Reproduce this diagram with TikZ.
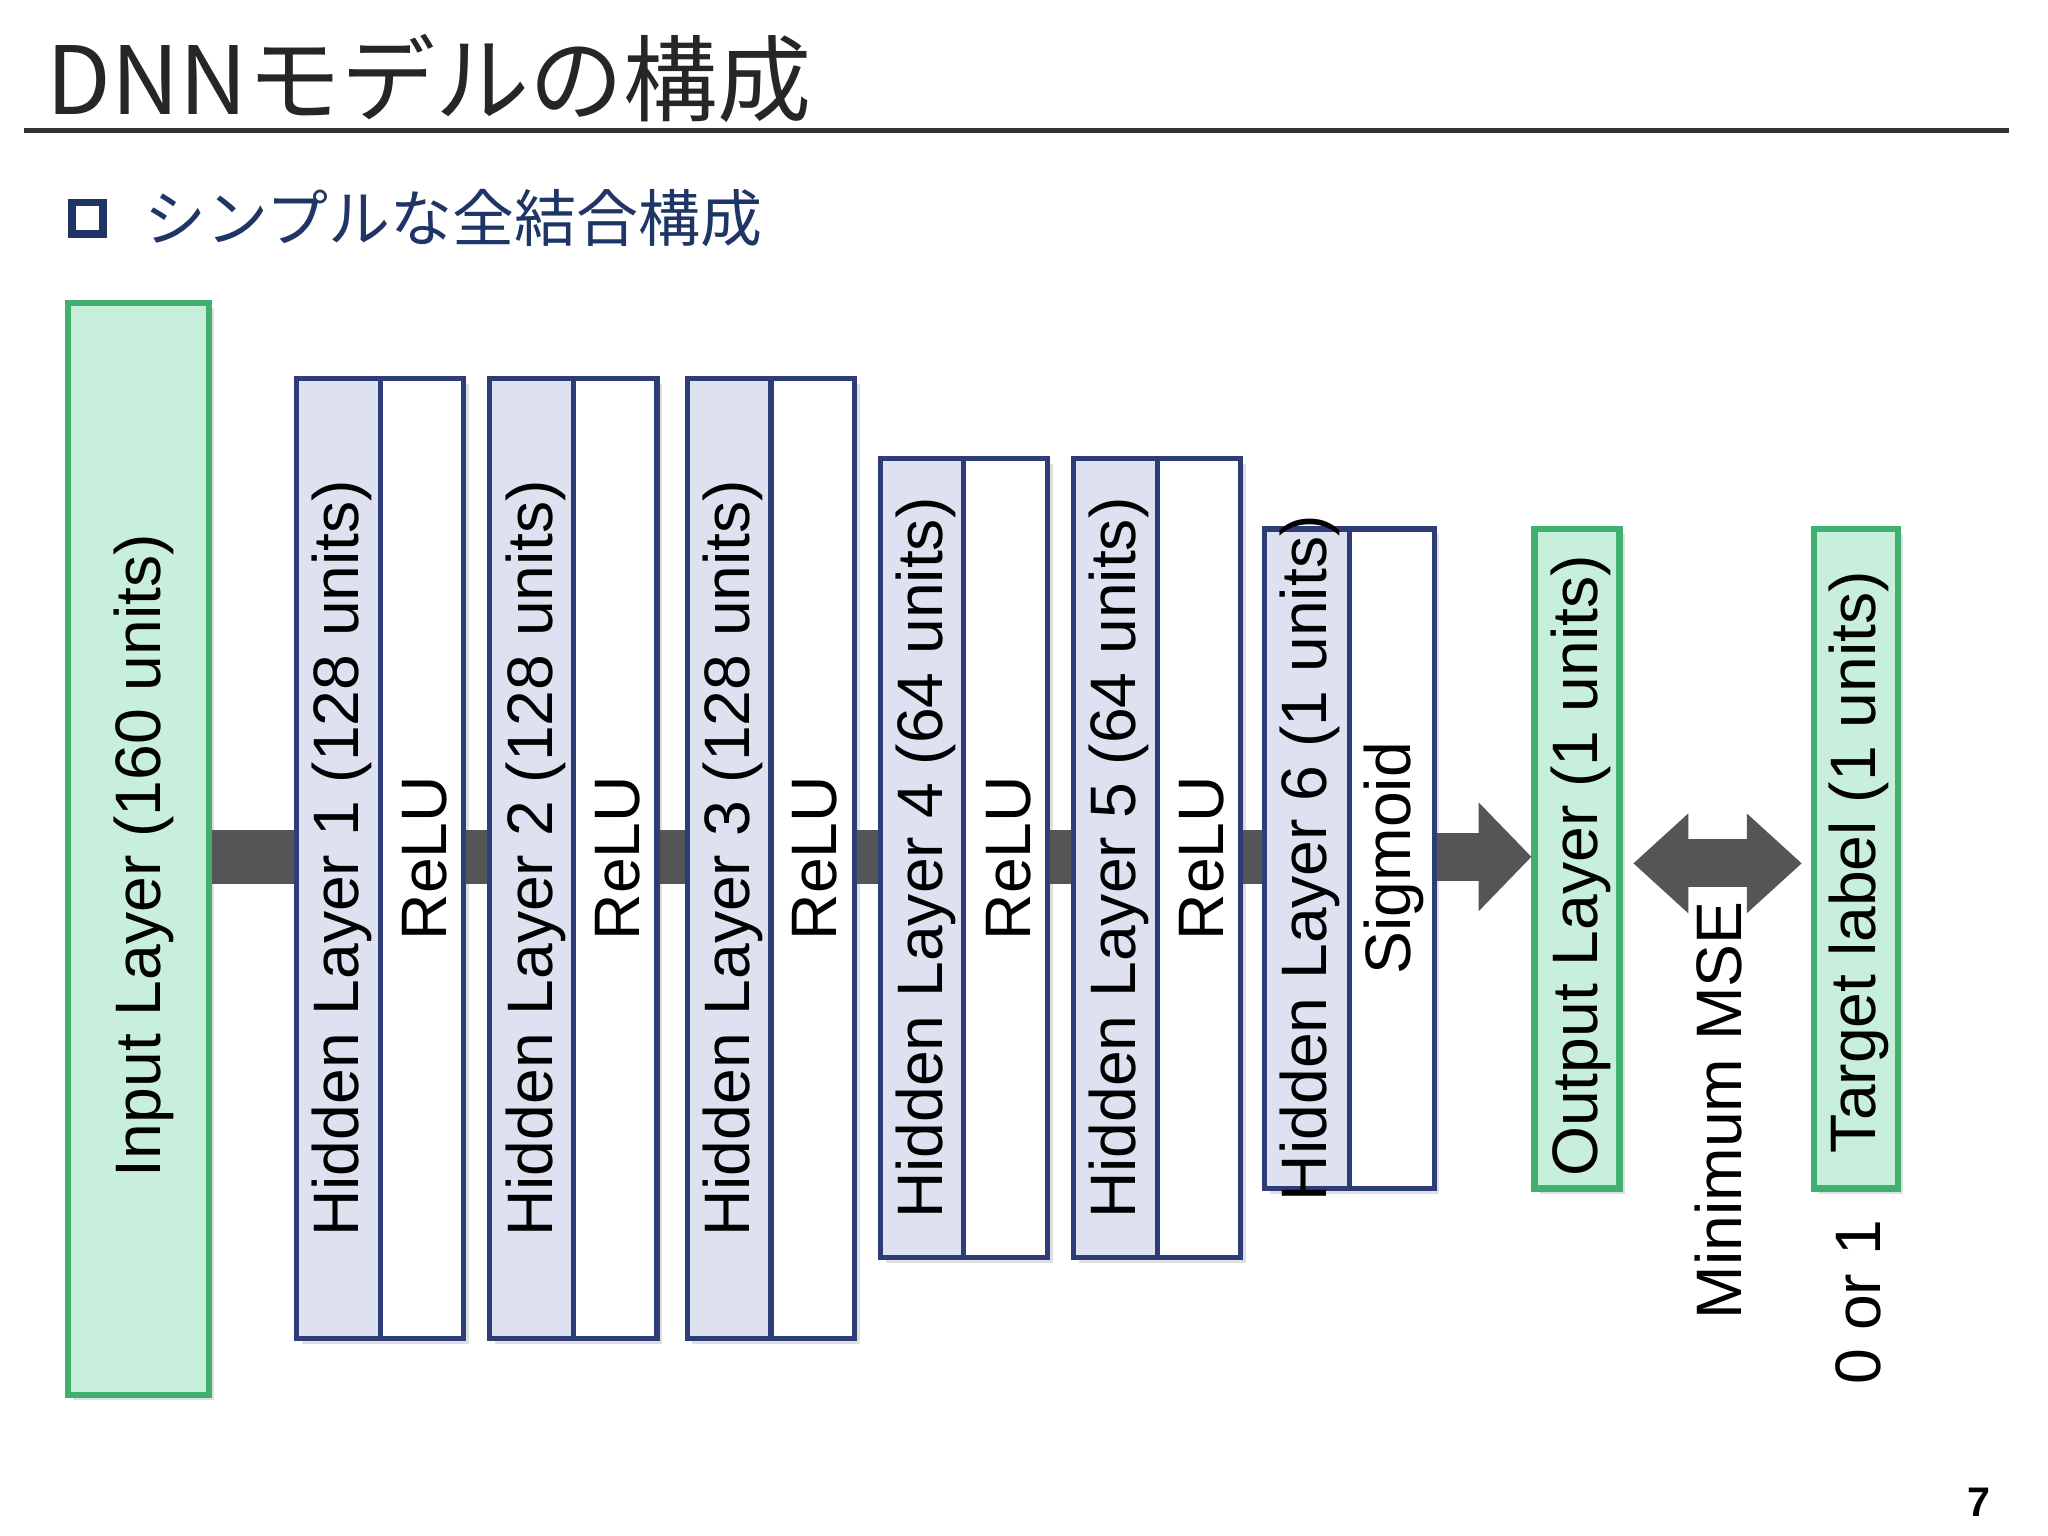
\documentclass[tikz,border=0pt]{standalone}
\usepackage{fontspec}
\setmainfont{Liberation Sans}
\newfontfamily\cjk{Noto Sans CJK JP}
\usetikzlibrary{arrows.meta,shadows}
\definecolor{grn}{HTML}{C8EEDC}
\definecolor{grnd}{HTML}{3FB070}
\definecolor{blu}{HTML}{DDE1F0}
\definecolor{blud}{HTML}{2E3D78}
\definecolor{bar}{HTML}{555555}
\definecolor{navy}{HTML}{1F3566}
\tikzset{
 x=0.1mm,y=-0.1mm,
 sh/.style={drop shadow={shadow xshift=0.4mm,shadow yshift=-0.4mm,opacity=0.25}},
 gbox/.style={draw=grnd,fill=grn,line width=1.4pt,sh,inner sep=0},
 hbox/.style={draw=blud,fill=blu,line width=1.1pt,sh,inner sep=0},
 wbox/.style={draw=blud,fill=white,line width=1.1pt,sh,inner sep=0},
 lbl/.style={rotate=90,font=\fontsize{14}{16}\selectfont,inner sep=0},
 conn/.style={draw=bar,line width=11.7pt},
}
\newcommand{\bx}[6]{\node[#1,minimum width=#4mm,minimum height=#5mm] (#2) at (#3) {};}
\begin{document}
\begin{tikzpicture}
\useasboundingbox[fill=white] (0,0) rectangle (1568,1176);
\node[anchor=base west,inner sep=0,font=\cjk\fontsize{20.5}{24}\selectfont,text=black!85] (title) at (35,88) {DNNモデルの構成};
\draw[line width=1.2pt,color=black!80] (18,100) -- (1538,100);
\node[draw=navy,line width=1.7pt,minimum size=2.4mm,inner sep=0] (bul) at (67,167) {};
\node[anchor=west,inner sep=0,font=\cjk\fontsize{13.5}{16}\selectfont,text=navy] (sub) at (110,167) {シンプルな全結合構成};
% boxes: center, width, height (mm)
\node[gbox,minimum width=10.8mm,minimum height=83.6mm] (in) at (106,650) {};
\node[hbox,minimum width=6.4mm,minimum height=73.5mm] (h1a) at (259,657.5) {};
\node[wbox,minimum width=6.4mm,minimum height=73.5mm] (h1b) at (323,657.5) {};
\node[hbox,minimum width=6.4mm,minimum height=73.5mm] (h2a) at (407,657.5) {};
\node[wbox,minimum width=6.4mm,minimum height=73.5mm] (h2b) at (471,657.5) {};
\node[hbox,minimum width=6.4mm,minimum height=73.5mm] (h3a) at (558,657.5) {};
\node[wbox,minimum width=6.4mm,minimum height=73.5mm] (h3b) at (622.5,657.5) {};
\node[hbox,minimum width=6.4mm,minimum height=61.2mm] (h4a) at (706,657) {};
\node[wbox,minimum width=6.4mm,minimum height=61.2mm] (h4b) at (770,657) {};
\node[hbox,minimum width=6.4mm,minimum height=61.2mm] (h5a) at (854,657) {};
\node[wbox,minimum width=6.4mm,minimum height=61.2mm] (h5b) at (918,657) {};
\node[hbox,minimum width=6.5mm,minimum height=50.5mm] (h6a) at (1000.5,657.5) {};
\node[wbox,minimum width=6.5mm,minimum height=50.5mm] (h6b) at (1065.5,657.5) {};
\node[gbox,minimum width=6.5mm,minimum height=50.5mm] (out) at (1207.5,657.5) {};
\node[gbox,minimum width=6.4mm,minimum height=50.5mm] (tgt) at (1421,657.5) {};
% labels
\node[lbl] (t0) at (110,655) {Input Layer (160 units)};
\node[lbl] (t1) at (262,657) {Hidden Layer 1 (128 units)};
\node[lbl] (t2) at (410,657) {Hidden Layer 2 (128 units)};
\node[lbl] (t3) at (561,657) {Hidden Layer 3 (128 units)};
\node[lbl] (t4) at (709,657) {Hidden Layer 4 (64 units)};
\node[lbl] (t5) at (857,657) {Hidden Layer 5 (64 units)};
\node[lbl] (t6) at (1003,657) {Hidden Layer 6 (1 units)};
\node[lbl] (r1) at (325,657) {ReLU};
\node[lbl] (r2) at (473,657) {ReLU};
\node[lbl] (r3) at (624,657) {ReLU};
\node[lbl] (r4) at (772,657) {ReLU};
\node[lbl] (r5) at (920,657) {ReLU};
\node[lbl] (sg) at (1067,657) {Sigmoid};
\node[lbl] (to) at (1210,663) {Output Layer (1 units)};
\node[lbl] (tt) at (1423,660) {Target label (1 units)};
\node[lbl] (mse) at (1316,850) {Minimum MSE};
\node[lbl] (z1) at (1423,997) {0 or 1};
\node[inner sep=0,font=\fontsize{9}{10}\selectfont\bfseries] (pg) at (1515,1150) {7};
% connectors
\coordinate (b) at (0,656);
\draw[conn] (in.east|-b) -- (h1a.west|-b);
\draw[conn] (h1b.east|-b) -- (h2a.west|-b);
\draw[conn] (h2b.east|-b) -- (h3a.west|-b);
\draw[conn] (h3b.east|-b) -- (h4a.west|-b);
\draw[conn] (h4b.east|-b) -- (h5a.west|-b);
\draw[conn] (h5b.east|-b) -- (h6a.west|-b);
\draw[draw=bar,line width=10.5pt,-{Triangle[length=11.5pt,width=23pt]}] (h6b.east|-b) -- (out.west|-b);
\coordinate (c) at (0,661);
\draw[draw=bar,line width=10.5pt,{Triangle[length=12pt,width=21pt]}-{Triangle[length=12pt,width=21pt]}] ([xshift=0.8mm]out.east|-c) -- ([xshift=-0.7mm]tgt.west|-c);
\end{tikzpicture}
\end{document}
